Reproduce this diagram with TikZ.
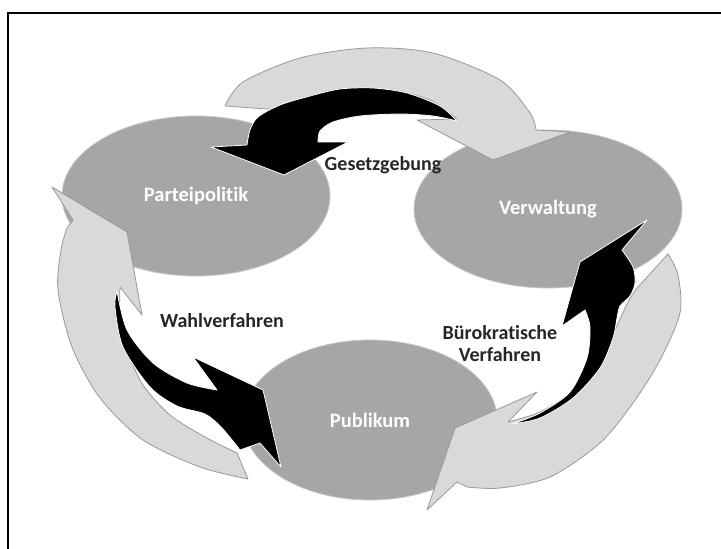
\documentclass[tikz,border=0pt]{standalone}
\usepackage{fontspec}
\setmainfont{Carlito}[Ligatures=NoCommon]
\usetikzlibrary{positioning,shapes.geometric}

\begin{document}
\begin{tikzpicture}[x=1pt,y=-1pt,
blob/.style={ellipse,fill=black!35,draw=black!22,line width=0.8pt,inner sep=0pt,text=white,font=\fontsize{20.5}{22}\selectfont\bfseries},
lbl/.style={text=black!85,align=center,font=\fontsize{20}{22}\selectfont\bfseries},
band/.style={fill=black!15,draw=black!40,line width=0.8pt,line join=round},
swoosh/.style={fill=black,draw=white,line width=0.8pt,line join=round}]
\useasboundingbox (0,0) rectangle (721,549);
\draw[line width=1.6pt] (8,549) -- (8,13) -- (721,13);
\node[blob,minimum width=268pt,minimum height=160pt] (partei) at (196,196) {Parteipolitik};
\node[blob,minimum width=268pt,minimum height=158pt] (verw) at (548,209) {Verwaltung};
\node[blob,minimum width=254pt,minimum height=160pt] (publ) at (370,420) {Publikum};
\draw[band] plot[smooth] coordinates {(225,106) (243,82) (300,58) (367,48) (433,53) (500,80) (530,113) (536,130)}
  -- (570,132) -- (493,160) -- (417,120)
  -- plot[smooth] coordinates {(457,119) (430,100) (390,90) (350,92) (320,100) (308,112)} -- cycle;
\draw[band] (52,187) -- (73,220)
  -- plot[smooth] coordinates {(67,228) (61,250) (58,290) (72,347) (100,398) (143,440) (200,467) (248,479)}
  -- plot[smooth] coordinates {(237,453) (205,437) (170,415) (143,385) (127,350) (120,320) (120,287)}
  -- (142,315) -- (127,232) -- cycle;
\draw[band] plot[smooth] coordinates {(668,254) (678,275) (680,313) (660,360) (633,403) (600,443) (550,477) (500,488) (467,487)}
  -- (457,482) -- (427,510) -- (455,428) -- (537,392)
  -- plot[smooth] coordinates {(508,422) (540,412) (575,390) (600,360) (615,330) (628,302) (637,288)} -- cycle;
\draw[swoosh] plot[smooth] coordinates {(457,121) (440,106) (407,93) (373,88) (340,89) (310,96) (280,105) (258,117) (250,130) (247,145)}
  -- (211,147) -- (284,175) -- (348,142)
  -- plot[smooth] coordinates {(318,142) (320,131) (333,122) (360,116) (400,114) (433,116) (457,121)} -- cycle;
\draw[swoosh] plot[smooth] coordinates {(117,291) (115,307) (123,347) (150,387) (177,406) (205,414) (222,428) (240,450)}
  -- (260,443) -- (281,467) -- (263,390) -- (193,357)
  -- plot[smooth] coordinates {(217,390) (187,383) (153,363) (127,330) (117,291)} -- cycle;
\draw[swoosh] plot[smooth] coordinates {(512,424) (540,418) (573,398) (600,368) (613,338) (617,318) (620,306) (630,296) (635,283) (633,267) (622,250)}
  -- (647,220) -- (580,262) -- (562,326)
  -- plot[smooth] coordinates {(585,310) (590,327) (587,358) (570,392) (540,413) (512,424)} -- cycle;
\node[lbl] (gesetz) at (383,165) {Gesetzgebung};
\node[lbl] (wahl) at (222,321) {Wahlverfahren};
\node[lbl] (buero) at (500,344) {Bürokratische\\Verfahren};
\end{tikzpicture}
\end{document}
